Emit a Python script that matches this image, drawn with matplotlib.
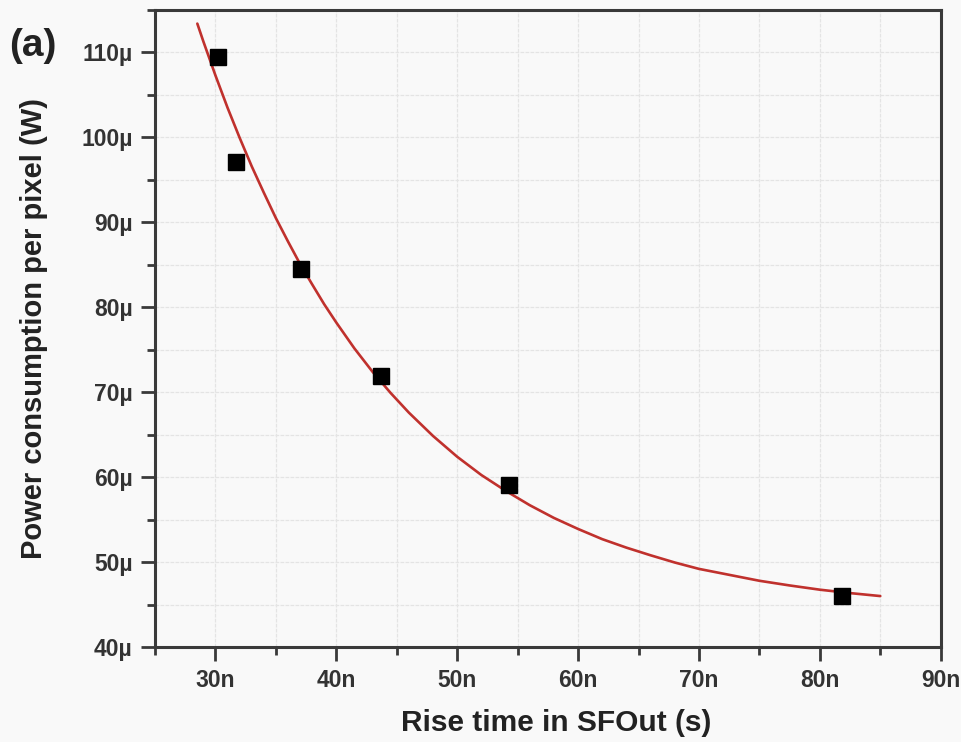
import matplotlib
matplotlib.use("Agg")
import matplotlib.pyplot as plt
from matplotlib.ticker import EngFormatter, MultipleLocator
import numpy as np

# Measured points: rise time at SFOut vs. power consumption per pixel
rise_time_ns = [30.25, 31.7, 37.1, 43.7, 54.25, 81.8]
power_uW = [109.5, 97.1, 84.5, 71.9, 59.1, 46.0]

# Exponential-decay fit curve (sampled)
fit_time_ns = [28.5, 29, 30, 31, 32, 33, 34, 35, 36, 37, 38, 39, 40, 41.5, 43,
               44.5, 46, 48, 50, 52, 54, 56, 58, 60, 62, 64, 66, 68, 70, 72.5,
               75, 77.5, 80, 82.5, 85]
fit_power_uW = [113.4, 111.3, 107.3, 103.5, 99.96, 96.6, 93.5, 90.5, 87.75, 85.1,
                82.7, 80.35, 78.2, 75.15, 72.4, 69.9, 67.6, 64.85, 62.4, 60.25,
                58.4, 56.7, 55.2, 53.9, 52.7, 51.7, 50.8, 49.95, 49.2, 48.5,
                47.8, 47.25, 46.75, 46.35, 46.0]

plt.rcParams['font.family'] = ['Liberation Sans', 'DejaVu Sans']

bg = '#f9f9f9'
fig = plt.figure(figsize=(9.61, 7.42), dpi=100, facecolor=bg)
ax = fig.add_axes([0.1613, 0.128, 0.8176, 0.8585], facecolor=bg)

x_s = np.array(rise_time_ns) * 1e-9
y_w = np.array(power_uW) * 1e-6
fx_s = np.array(fit_time_ns) * 1e-9
fy_w = np.array(fit_power_uW) * 1e-6

ax.plot(fx_s, fy_w, color='#c0312d', lw=1.9, zorder=3,
        solid_joinstyle='round', solid_capstyle='round')
ax.plot(x_s, y_w, linestyle='none', marker='s', markersize=11.5,
        color='black', zorder=4)

ax.set_xlim(25e-9, 90e-9)
ax.set_ylim(40e-6, 115e-6)
ax.xaxis.set_major_locator(MultipleLocator(10e-9))
ax.xaxis.set_minor_locator(MultipleLocator(5e-9))
ax.yaxis.set_major_locator(MultipleLocator(10e-6))
ax.yaxis.set_minor_locator(MultipleLocator(5e-6))
ax.xaxis.set_major_formatter(EngFormatter(sep=""))
ax.yaxis.set_major_formatter(EngFormatter(sep=""))

ax.grid(True, which='both', color='#e4e4e4', lw=0.9, linestyle=(0, (3, 1)))
ax.set_axisbelow(True)

for s in ax.spines.values():
    s.set_color('#3a3a3a')
    s.set_linewidth(2.2)

ax.tick_params(which='major', direction='out', length=10, width=2,
               color='#3a3a3a', labelsize=16.5, pad=6)
ax.tick_params(which='minor', direction='out', length=6, width=2,
               color='#3a3a3a')
ax.tick_params(axis='x', which='major', pad=6)
for lab in ax.get_xticklabels() + ax.get_yticklabels():
    lab.set_fontweight('bold')
    lab.set_color('#333333')

ax.set_xlabel('Rise time in SFOut (s)', fontsize=21.5, fontweight='bold',
              color='#222222', labelpad=12)
ax.xaxis.label.set_x(0.51)
ax.set_ylabel('Power consumption per pixel (W)', fontsize=21, fontweight='bold',
              color='#222222', labelpad=24)

fig.text(0.010, 0.925, '(a)', fontsize=28, fontweight='bold', color='#222222')

fig.savefig('out.png', dpi=100, facecolor=bg)
